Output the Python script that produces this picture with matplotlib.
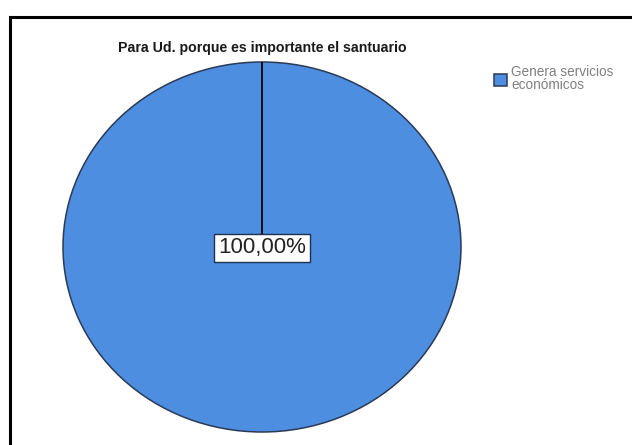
import matplotlib
matplotlib.use("Agg")
import matplotlib.pyplot as plt
from matplotlib.lines import Line2D
import numpy as np

plt.rcParams['font.family'] = ['Liberation Sans', 'DejaVu Sans']

title = "Para Ud. porque es importante el santuario"
categories = ["Genera servicios\necon\u00f3micos"]
values = [100.0]
pct_labels = ["100,00%"]

W, H = 632, 445
fig = plt.figure(figsize=(W / 100, H / 100), dpi=100)

# outer frame (left and top borders)
fig.add_artist(Line2D([9.5 / W, 9.5 / W], [0, 1 - 16.5 / H], transform=fig.transFigure,
                      color='black', lw=2.2, solid_capstyle='projecting'))
fig.add_artist(Line2D([9.5 / W, 1], [1 - 16.5 / H, 1 - 16.5 / H], transform=fig.transFigure,
                      color='black', lw=2.2, solid_capstyle='projecting'))

# pie axes
left, right, top, bottom = 63, 461, 62, 432
ax = fig.add_axes([left / W, 1 - bottom / H, (right - left) / W, (bottom - top) / H])
color = '#4d8ee0'
wedges, _ = ax.pie(values, colors=[color], startangle=90, counterclock=False,
                   wedgeprops=dict(edgecolor='#2a3a55', linewidth=1.1))
ax.set_aspect('auto')
ax.set_xlim(-1.0, 1.0)
ax.set_ylim(-1.0, 1.0)
ax.axis('off')

# wedge boundary line at the start angle
ang = np.deg2rad(90)
ax.plot([0, np.cos(ang)], [0, np.sin(ang)], color='black', lw=1.3, zorder=3)

ax.text(0, -0.005, pct_labels[0], ha='center', va='center', fontsize=16, color='#222222',
        zorder=4, bbox=dict(boxstyle='square,pad=0.17', facecolor='white',
                            edgecolor='#1f3050', linewidth=1.0))

fig.text(262 / W, 1 - 48 / H, title, ha='center', va='center', fontsize=10.2,
         fontweight='bold', color='#1a1a1a')

leg = fig.legend(wedges, categories, loc='upper left',
                 bbox_to_anchor=(489 / W, 1 - 60 / H), frameon=False,
                 fontsize=9.8, handlelength=0.95, handleheight=0.95, handletextpad=0.3,
                 borderaxespad=0, labelspacing=0)
for t in leg.get_texts():
    t.set_color('#808080')
    t.set_linespacing(0.9)

fig.savefig("out.png", dpi=100)
